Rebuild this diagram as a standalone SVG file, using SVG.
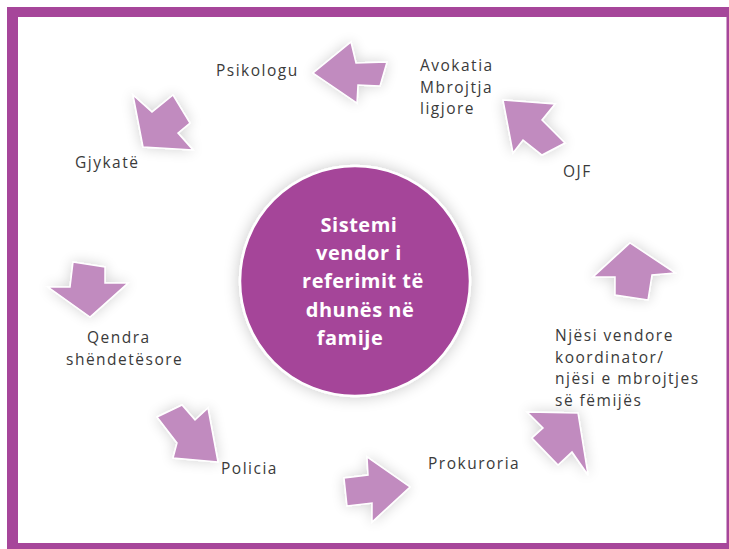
<svg xmlns="http://www.w3.org/2000/svg" width="729" height="549" viewBox="0 0 729 549">
<style>
.arrow{fill:#C18BBF;stroke:#FFFFFF;stroke-width:1.5;stroke-linejoin:miter;filter:url(#glow)}
.lbl{font-family:"Open Sans","Liberation Sans",sans-serif;font-size:15.5px;letter-spacing:1.5px;fill:#3A3A3A}
.ctr{font-family:"Open Sans","Liberation Sans",sans-serif;font-size:20px;font-weight:700;letter-spacing:0.5px;fill:#FFFFFF;text-anchor:middle}
</style>
<defs>
<filter id="glow" x="-50%" y="-50%" width="200%" height="200%">
<feGaussianBlur in="SourceAlpha" stdDeviation="7"/>
<feComponentTransfer><feFuncA type="linear" slope="0.18"/></feComponentTransfer>
<feMerge><feMergeNode/><feMergeNode in="SourceGraphic"/></feMerge>
</filter>
<filter id="cglow" x="-30%" y="-30%" width="160%" height="160%">
<feGaussianBlur in="SourceAlpha" stdDeviation="8"/>
<feComponentTransfer><feFuncA type="linear" slope="0.22"/></feComponentTransfer>
<feMerge><feMergeNode/><feMergeNode in="SourceGraphic"/></feMerge>
</filter>
</defs>
<rect x="0" y="0" width="729" height="549" fill="#FFFFFF"/>
<path id="frame" d="M7 7H729V549H7Z M18 17V543H726.5V17Z" fill="#A6469A" fill-rule="evenodd"/>

<g id="center">
<circle cx="355" cy="281" r="115" fill="#A54499" stroke="#FFFFFF" stroke-width="2.5" filter="url(#cglow)"/>
<text class="ctr" x="359" y="232">Sistemi</text>
<text class="ctr" x="359" y="260">vendor i</text>
<text class="ctr" x="363" y="288">referimit të</text>
<text class="ctr" x="360" y="317">dhunës në</text>
<text class="ctr" x="350" y="345">famije</text>
</g>

<g id="connectors">
<polygon class="arrow" points="313,73 351,42 356,63 387,62 380,86 358,85 357,103"/>
<polygon class="arrow" points="503,100 555,104 542,120 565,143 542,155 523,140 513,153"/>
<polygon class="arrow" points="630,243 675,273 652,275 648,300 615,295 615,277 593,277"/>
<polygon class="arrow" points="578,413 588,475 572,452 558,465 532,438 543,428 527,412"/>
<polygon class="arrow" points="410,487 372,522 372,503 347,506 344,478 368,475 367,457"/>
<polygon class="arrow" points="218,462 173,458 177,443 157,417 182,405 195,420 208,408"/>
<polygon class="arrow" points="90,317 48,287 70,287 73,262 105,267 105,283 128,283"/>
<polygon class="arrow" points="143,147 133,95 152,112 173,95 190,123 178,133 193,150"/>
</g>

<g id="psikologu"><text class="lbl" x="216" y="76">Psikologu</text></g>
<g id="avokatia">
<text class="lbl" x="420" y="71">Avokatia</text>
<text class="lbl" x="420" y="92.5">Mbrojtja</text>
<text class="lbl" x="420" y="114">ligjore</text>
</g>
<g id="ojf"><text class="lbl" x="563" y="177">OJF</text></g>
<g id="njesi">
<text class="lbl" x="555" y="341">Njësi vendore</text>
<text class="lbl" x="555" y="362.5">koordinator/</text>
<text class="lbl" x="555" y="384">njësi e mbrojtjes</text>
<text class="lbl" x="555" y="405.5">së fëmijës</text>
</g>
<g id="prokuroria"><text class="lbl" x="428" y="469">Prokuroria</text></g>
<g id="policia"><text class="lbl" x="221" y="474">Policia</text></g>
<g id="qendra">
<text class="lbl" x="87" y="343">Qendra</text>
<text class="lbl" x="66" y="365">shëndetësore</text>
</g>
<g id="gjykata"><text class="lbl" x="75" y="168">Gjykatë</text></g>
</svg>
